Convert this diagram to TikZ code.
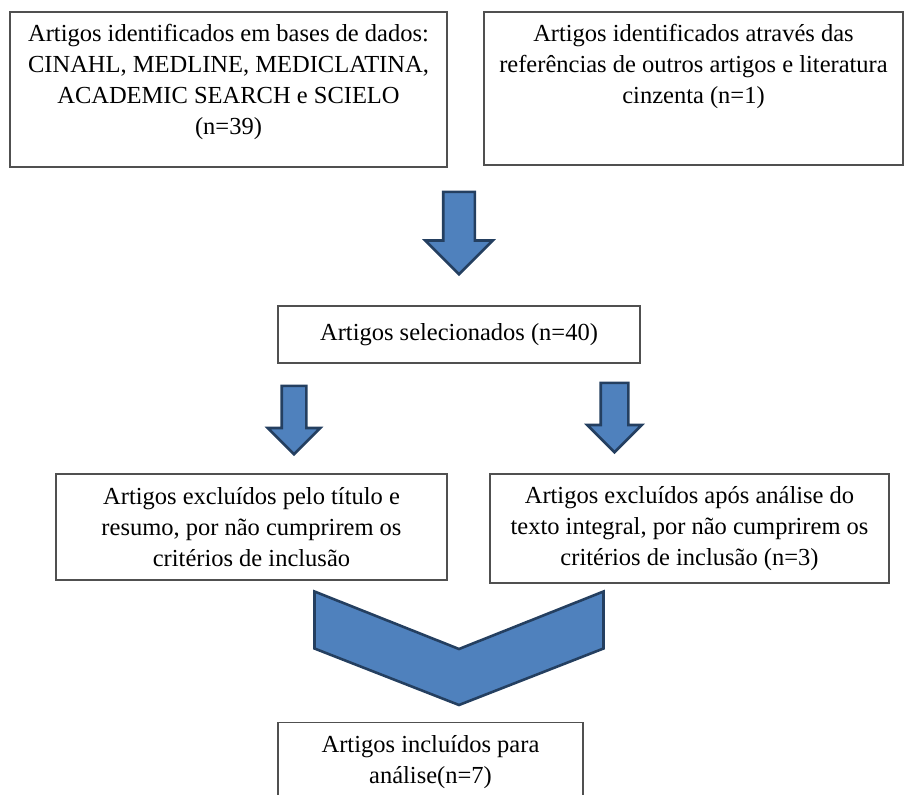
\documentclass[tikz,border=0pt]{standalone}
\usepackage{fontspec}
\setmainfont{Liberation Serif}
\usetikzlibrary{positioning, shapes.arrows}
\definecolor{ArrowBlue}{HTML}{4F81BD}
\definecolor{ArrowEdge}{HTML}{243F60}
\definecolor{BoxEdge}{HTML}{505050}

\begin{document}
\begin{tikzpicture}[x=1pt, y=-1pt,
    flowbox/.style={draw=BoxEdge, line width=1.3pt, fill=white, inner sep=0pt, align=center, font=\fontsize{24.5}{31}\selectfont},
    boxtext/.style={align=center, inner sep=0pt, font=\fontsize{24.5}{31}\selectfont},
    downarrow/.style={single arrow, draw=ArrowEdge, line width=2.6pt, fill=ArrowBlue, rotate=-90, inner xsep=0pt, anchor=tail}
]
    \clip (0,0) rectangle (906,795);

    % sources
    \node[flowbox, minimum width=437, minimum height=155] at (228.5, 89.5) (dbs) {};
    \node[boxtext, below=13pt of dbs.north] (dbstext) {Artigos identificados em bases de dados:\\
        CINAHL, MEDLINE, MEDICLATINA,\\
        ACADEMIC SEARCH e SCIELO\\
        (n=39)};
    \node[flowbox, minimum width=419, minimum height=153] at (693.5, 88.5) (refs) {};
    \node[boxtext, below=13pt of refs.north] (refstext) {Artigos identificados através das\\
        referências de outros artigos e literatura\\
        cinzenta (n=1)};

    \node[downarrow, minimum height=82.5, minimum width=65, single arrow head extend=18, inner ysep=14.5] at (459, 190.5) (arrtop) {};

    % selection
    \node[flowbox, minimum width=362, minimum height=57] at (459, 334.5) (sel) {Artigos selecionados (n=40)};

    \node[downarrow, minimum height=68.5, minimum width=50, single arrow head extend=14, inner ysep=11] at (294, 384.5) (arrleft) {};
    \node[downarrow, minimum height=69.5, minimum width=52, single arrow head extend=13.5, inner ysep=12.5] at (614.5, 381.5) (arrright) {};

    % exclusions
    \node[flowbox, minimum width=391, minimum height=106] at (251.5, 527) (extitle) {Artigos excluídos pelo título e\\
        resumo, por não cumprirem os\\
        critérios de inclusão};
    \node[flowbox, minimum width=399, minimum height=109] at (689.5, 528.5) (exfull) {Artigos excluídos após análise do\\
        texto integral, por não cumprirem os\\
        critérios de inclusão (n=3)};

    \draw[draw=ArrowEdge, line width=2.6pt, fill=ArrowBlue, line join=miter]
        (314.5, 591.5) -- (459, 649) -- (603.5, 591.5) -- (603.5, 648.5) -- (459, 705) -- (314.5, 648.5) -- cycle;

    % included
    \node[flowbox, minimum width=305, minimum height=110, anchor=north] at (430.5, 722) (incl) {};
    \node[boxtext, below=13pt of incl.north] (incltext) {Artigos incluídos para\\
        análise(n=7)};

\end{tikzpicture}
\end{document}
